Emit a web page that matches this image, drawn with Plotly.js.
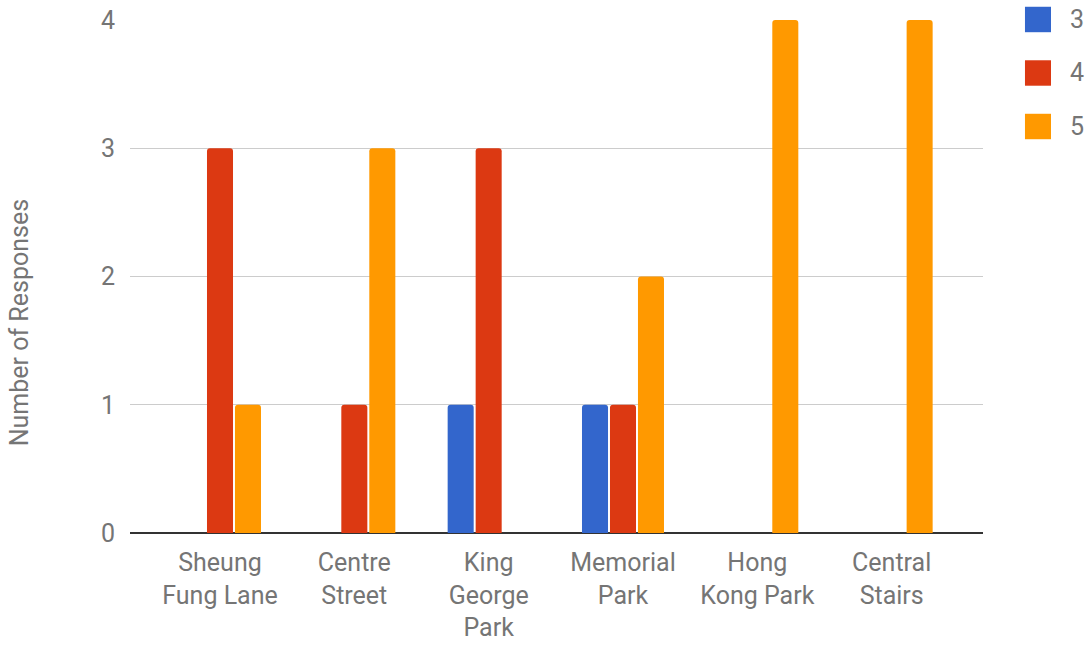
<!DOCTYPE html>
<html><head><meta charset="utf-8">
<script src="https://cdn.plot.ly/plotly-3.0.1.min.js"></script>
<style>html,body{margin:0;padding:0;background:#fff}#chart{width:1089px;height:646px}</style>
</head><body><div id="chart"></div>
<script>
const categories = ["Sheung<br>Fung Lane", "Centre<br>Street", "King<br>George<br>Park", "Memorial<br>Park", "Hong<br>Kong Park", "Central<br>Stairs"];
const seriesNames = ["3", "4", "5"];
const seriesColors = ["#3366CC", "#DC3912", "#FF9900"];
const values3 = [0, 0, 1, 1, 0, 0];
const values4 = [3, 1, 3, 1, 0, 0];
const values5 = [1, 3, 0, 2, 4, 4];
const yTicks = [0, 1, 2, 3, 4];
const yTitle = "Number of Responses";

const seriesValues = [values3, values4, values5];
const traces = seriesValues.map((v, i) => ({
  type: 'bar', x: categories, y: v, name: seriesNames[i],
  marker: {color: seriesColors[i], cornerradius: 3},
  showlegend: false, hoverinfo: 'x+y'
}));

const FF = 'Roboto, sans-serif';
const GREY = '#757575';
const shapes = [], annotations = [];
seriesNames.forEach((n, i) => {
  const yc = 1.001 - i * 0.1043;
  shapes.push({type: 'rect', xref: 'paper', yref: 'paper',
    x0: 1.0492, x1: 1.0797, y0: yc + 0.0248, y1: yc - 0.0248,
    fillcolor: seriesColors[i], line: {width: 0}, layer: 'above'});
  annotations.push({xref: 'paper', yref: 'paper', x: 1.0995, y: yc,
    xanchor: 'left', yanchor: 'middle', text: n, showarrow: false,
    font: {family: FF, color: GREY, size: 25}});
});
annotations.push({xref: 'paper', yref: 'paper', x: -0.130, y: 0.409,
  xanchor: 'center', yanchor: 'middle', textangle: -90, text: yTitle, showarrow: false,
  font: {family: FF, color: GREY, size: 25}});

const layout = {
  width: 1089, height: 646,
  margin: {l: 130, r: 106, t: 20, b: 113},
  paper_bgcolor: '#fff', plot_bgcolor: '#fff',
  font: {family: FF, color: GREY, size: 25},
  barmode: 'group', bargap: 0.375, bargroupgap: 0.07,
  xaxis: {range: [-0.67, 5.68], showgrid: false, ticks: '', showline: false,
    ticklabelstandoff: 12,
    tickfont: {family: FF, color: GREY, size: 25}, fixedrange: true},
  yaxis: {range: [0, 4], tickvals: yTicks, ticktext: yTicks.map(String),
    gridcolor: '#cccccc', gridwidth: 1, zeroline: true, zerolinecolor: '#333333', zerolinewidth: 2,
    showline: false, ticks: '', ticklabelstandoff: 14,
    tickfont: {family: FF, color: GREY, size: 25}},
  shapes: shapes, annotations: annotations
};
Plotly.newPlot('chart', traces, layout, {displayModeBar: false, staticPlot: true});
</script></body></html>
